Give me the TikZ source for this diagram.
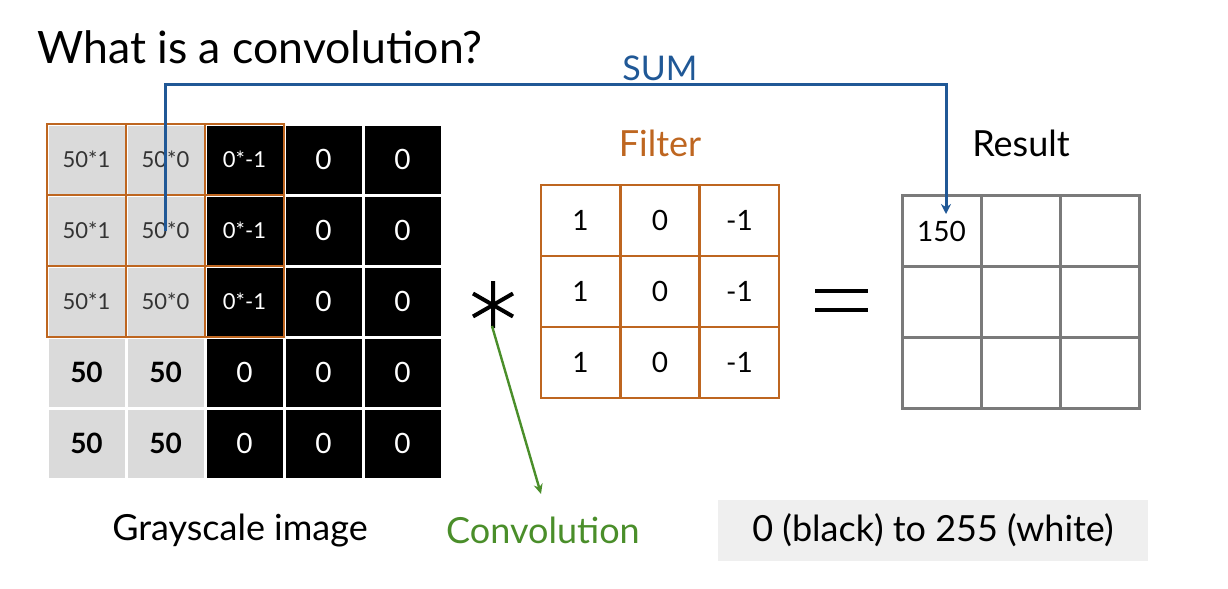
\documentclass[tikz,border=0pt]{standalone}
\usepackage{fontspec}
\setmainfont{Lato}
\usetikzlibrary{arrows.meta}
\definecolor{winorange}{RGB}{190,102,32}
\definecolor{sumblue}{RGB}{32,88,150}
\definecolor{convgreen}{RGB}{74,142,42}
\definecolor{cellgray}{RGB}{218,218,218}
\definecolor{gridgray}{RGB}{122,122,122}
\definecolor{notegray}{RGB}{239,239,239}
\newcommand{\fs}[1]{\fontsize{#1}{#1}\selectfont}
\begin{document}
\begin{tikzpicture}[x=0.5pt,y=-0.5pt,
    graycell/.style={fill=cellgray,text=black},
    blackcell/.style={fill=black,text=white},
    small/.style={font=\fs{11}},
    big/.style={font=\fs{14}},
    label/.style={font=\fs{18},inner sep=0pt}]
  \useasboundingbox (0,0) rectangle (1228,589);
  \node[anchor=base west,inner sep=0pt,font=\fs{22.3}] (title) at (37,63) {What is a convolution?};
  % grayscale image
  \begin{scope}[every node/.style={minimum width=38pt,minimum height=34pt,inner sep=0pt}]
    \foreach \r/\y in {1/159.5,2/230.5,3/301.5} {
      \node[graycell,small,text=black!80] (i-\r-1) at (86.5,\y) {50*1};
      \node[graycell,small,text=black!80] (i-\r-2) at (165.5,\y) {50*0};
      \node[blackcell,small] (i-\r-3) at (244.5,\y) {0*-1};
      \node[blackcell,big] (i-\r-4) at (323.5,\y) {0};
      \node[blackcell,big] (i-\r-5) at (402.5,\y) {0};
    }
    \foreach \r/\y in {4/372.5,5/443.5} {
      \node[graycell,big,font=\fs{14}\bfseries] (i-\r-1) at (86.5,\y) {50};
      \node[graycell,big,font=\fs{14}\bfseries] (i-\r-2) at (165.5,\y) {50};
      \node[blackcell,big] (i-\r-3) at (244.5,\y) {0};
      \node[blackcell,big] (i-\r-4) at (323.5,\y) {0};
      \node[blackcell,big] (i-\r-5) at (402.5,\y) {0};
    }
  \end{scope}
  % filter window on the image
  \begin{scope}[every node/.style={draw=winorange,line width=1.4pt,minimum width=39.5pt,minimum height=35.5pt,inner sep=0pt}]
    \foreach \r/\y in {1/159.5,2/230.5,3/301.5}
      \foreach \c/\x in {1/86.5,2/165.5,3/244.5}
        \node (w-\r-\c) at (\x,\y) {};
  \end{scope}
  % filter
  \node[label,text=winorange] (filterlbl) at (660,143) {Filter};
  \begin{scope}[every node/.style={draw=winorange,line width=1.4pt,minimum width=39.5pt,minimum height=35.5pt,inner sep=0pt,font=\fs{14}}]
    \foreach \r/\y in {1/220.5,2/291.5,3/362.5} {
      \node (f-\r-1) at (580.5,\y) {1};
      \node (f-\r-2) at (660,\y) {0};
      \node (f-\r-3) at (739.5,\y) {-1};
    }
  \end{scope}
  % result
  \node[label] (resultlbl) at (1021,143) {Result};
  \begin{scope}[every node/.style={draw=gridgray,line width=1.5pt,minimum width=39.5pt,minimum height=35.5pt,inner sep=0pt,font=\fs{14}}]
    \node (r-1-1) at (941.5,231) {150};
    \node (r-1-2) at (1020.5,231) {};
    \node (r-1-3) at (1099.5,231) {};
    \node (r-2-1) at (941.5,302) {};
    \node (r-2-2) at (1020.5,302) {};
    \node (r-2-3) at (1099.5,302) {};
    \node (r-3-1) at (941.5,373) {};
    \node (r-3-2) at (1020.5,373) {};
    \node (r-3-3) at (1099.5,373) {};
  \end{scope}
  % convolution and equals signs
  \draw[line width=2pt] (493,281) -- (493,328) (473,293.5) -- (513,316.5) (473,316.5) -- (513,293.5);
  \draw[line width=2pt] (815,291) -- (868,291) (815,310) -- (868,310);
  \coordinate (conv) at (492,326);
  % labels at the bottom
  \node[label] (graylbl) at (240,531) {Grayscale image};
  \node[label,text=convgreen] (convlbl) at (543,530) {Convolution};
  \node[label,fill=notegray,minimum width=215pt,minimum height=30.5pt] (range) at (933,530.5) {0 (black) to 255 (white)};
  % sum
  \coordinate (sum) at (660,84);
  \coordinate (sumend) at (946,214);
  \coordinate (convend) at (541,494);
  \node[font=\fs{17},text=sumblue,inner sep=0pt] (sumlbl) at (660,68) {SUM};
  \draw[sumblue,line width=1.5pt,-{Stealth[length=5pt,width=5pt]}] (i-2-2.center) |- (sum) -| (sumend);
  \draw[convgreen,line width=1.2pt,-{Stealth[length=5pt,width=4.5pt]}] (conv) -- (convend);
\end{tikzpicture}
\end{document}
